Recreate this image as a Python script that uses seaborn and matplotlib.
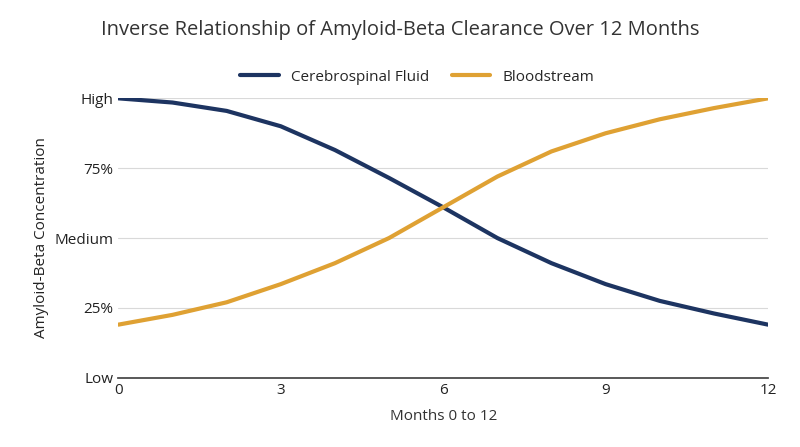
import matplotlib.pyplot as plt
import pandas as pd
import seaborn as sns

months = list(range(13))
csf = [1.0, 0.985, 0.955, 0.90, 0.815, 0.715, 0.61, 0.50, 0.41, 0.335, 0.275, 0.23, 0.19]
blood = [0.19, 0.225, 0.27, 0.335, 0.41, 0.50, 0.61, 0.72, 0.81, 0.875, 0.925, 0.965, 1.0]
y_ticks = [0, 0.25, 0.5, 0.75, 1.0]
y_labels = ["Low", "25%", "Medium", "75%", "High"]
x_ticks = [0, 3, 6, 9, 12]

sns.set_theme(style="white")
plt.rcParams["font.family"] = ["Open Sans", "DejaVu Sans"]

df = pd.DataFrame({"Month": months * 2,
                   "Value": csf + blood,
                   "Series": ["Cerebrospinal Fluid"] * 13 + ["Bloodstream"] * 13})

fig, ax = plt.subplots(figsize=(8, 4.47), dpi=100)
sns.lineplot(data=df, x="Month", y="Value", hue="Series",
             palette=["#1d3461", "#dfa133"], linewidth=3.0, ax=ax)

ax.set_xlim(0, 12)
ax.set_ylim(0, 1.0)
ax.set_xticks(x_ticks)
ax.set_yticks(y_ticks)
ax.set_yticklabels(y_labels)
ax.tick_params(axis="both", labelsize=11, colors="#222222", length=0)
ax.yaxis.grid(True, color="#d9d9d9", linewidth=0.8)
for s in ["top", "right", "left"]:
    ax.spines[s].set_visible(False)
ax.spines["bottom"].set_color("#444444")
ax.set_xlabel("Months 0 to 12", fontsize=11, color="#333333", labelpad=8)
ax.set_ylabel("Amyloid-Beta Concentration", fontsize=11, color="#222222")
fig.suptitle("Inverse Relationship of Amyloid-Beta Clearance Over 12 Months",
             x=0.5, y=0.955, fontsize=14.5, color="#333333")
ax.legend(loc="lower center", bbox_to_anchor=(0.46, 1.0), ncol=2, frameon=False,
          fontsize=11, handlelength=2.5, columnspacing=1.5)

fig.subplots_adjust(left=0.148, right=0.96, top=0.78, bottom=0.155)
fig.savefig("out.png", dpi=100)
